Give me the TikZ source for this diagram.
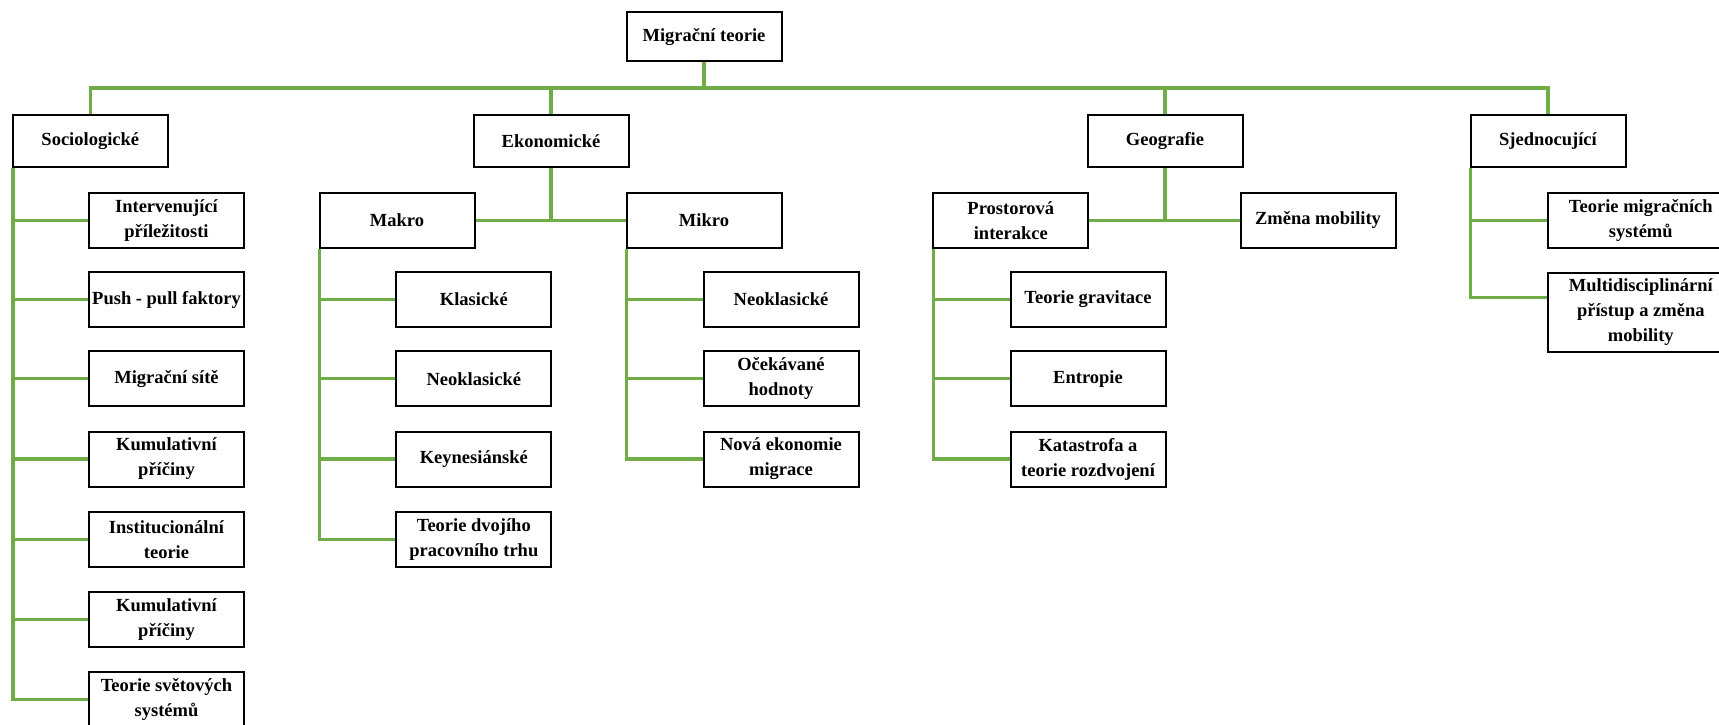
\documentclass[tikz,border=0pt]{standalone}
\usepackage{fontspec}
\setmainfont{Liberation Serif}
\definecolor{grn}{HTML}{70AD47}
\tikzset{
  box/.style={draw=black, line width=2pt, fill=white, minimum width=155pt,
    minimum height=55pt, inner sep=0pt, align=center,
    font=\bfseries\fontsize{18.5}{25}\selectfont},
  gline/.style={draw=grn, line width=3.2pt},
}
\begin{document}
\begin{tikzpicture}[x=1pt,y=-1pt]
\path[use as bounding box] (0,0) rectangle (1719,725);
\clip (0,0) rectangle (1719,725);
% top
\node[box, minimum height=49pt] (mig) at (704,37) {Migrační teorie};
% level 1
\node[box, minimum height=52pt] (soc) at (90.3,141) {Sociologické};
\node[box, minimum height=52pt] (eko) at (551,141) {Ekonomické};
\node[box, minimum height=52pt] (geo) at (1165,141) {Geografie};
\node[box, minimum height=52pt] (sje) at (1548,141) {Sjednocující};
% level 2
\node[box] (int) at (166.5,220.3) {Intervenující\\příležitosti};
\node[box] (makro) at (397,220.3) {Makro};
\node[box] (mikro) at (704,220.3) {Mikro};
\node[box] (pros) at (1010.8,220.3) {Prostorová\\interakce};
\node[box] (zmena) at (1318,220.3) {Změna mobility};
\node[box, minimum width=185pt] (tms) at (1640.8,220.3) {Teorie migračních\\systémů};
% sociologicke children
\node[box] (psh) at (166.5,299.5) {Push - pull faktory};
\node[box] (msi) at (166.5,378.7) {Migrační sítě};
\node[box] (kum1) at (166.5,459) {Kumulativní\\příčiny};
\node[box] (ins) at (166.5,539.3) {Institucionální\\teorie};
\node[box] (kum2) at (166.5,619.5) {Kumulativní\\příčiny};
\node[box] (tsv) at (166.5,699.8) {Teorie světových\\systémů};
% makro children
\node[box] (kla) at (473.8,299.5) {Klasické};
\node[box] (neo1) at (473.8,378.7) {Neoklasické};
\node[box] (key) at (473.8,459) {Keynesiánské};
\node[box] (tdv) at (473.8,539.3) {Teorie dvojího\\pracovního trhu};
% mikro children
\node[box] (neo2) at (781,299.5) {Neoklasické};
\node[box] (oce) at (781,378.7) {Očekávané\\hodnoty};
\node[box] (nov) at (781,459) {Nová ekonomie\\migrace};
% prostorova children
\node[box] (grav) at (1088,299.5) {Teorie gravitace};
\node[box] (ent) at (1088,378.7) {Entropie};
\node[box] (kat) at (1088,459) {Katastrofa a\\teorie rozdvojení};
% sjednocujici children
\node[box, minimum width=185pt, minimum height=78.4pt] (mds) at (1640.8,312.5) {Multidisciplinární\\přístup a změna\\mobility};
% connectors
\coordinate (bar) at (0,88);
\draw[gline] (soc.north) -- (soc.north |- bar) -- (sje.north |- bar) -- (sje.north);
\draw[gline] (mig.south) -- (mig.south |- bar);
\draw[gline] (eko.north) -- (eko.north |- bar);
\draw[gline] (geo.north) -- (geo.north |- bar);
% ekonomicke
\draw[gline] (eko.south) -- (eko.south |- makro.east);
\draw[gline] (makro.east) -- (mikro.west);
% geografie
\draw[gline] (geo.south) -- (geo.south |- pros.east);
\draw[gline] (pros.east) -- (zmena.west);
% trunks
\coordinate (socT) at ([xshift=1.2pt]soc.south west);
\coordinate (makT) at ([xshift=1.2pt]makro.south west);
\coordinate (mikT) at ([xshift=1.2pt]mikro.south west);
\coordinate (proT) at ([xshift=1.2pt]pros.south west);
\coordinate (sjeT) at ([xshift=1.2pt]sje.south west);
\foreach \c in {int,psh,msi,kum1,ins,kum2,tsv} {\draw[gline] (socT) |- (\c.west);}
\foreach \c in {kla,neo1,key,tdv} {\draw[gline] (makT) |- (\c.west);}
\foreach \c in {neo2,oce,nov} {\draw[gline] (mikT) |- (\c.west);}
\foreach \c in {grav,ent,kat} {\draw[gline] (proT) |- (\c.west);}
\draw[gline] (sjeT) |- (tms.west);
\coordinate (mdsW) at ([yshift=14.8pt]mds.west);
\draw[gline] (sjeT) |- (mdsW);
\end{tikzpicture}
\end{document}
